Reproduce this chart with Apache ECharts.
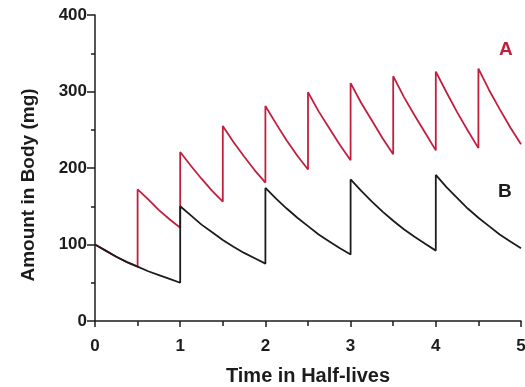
<!DOCTYPE html>
<html>
<head>
<meta charset="utf-8">
<script src="https://cdn.jsdelivr.net/npm/echarts@6/dist/echarts.min.js"></script>
<style>
  html, body { margin: 0; padding: 0; background: #fff; }
  #chart { width: 525px; height: 387px; }
</style>
</head>
<body>
<div id="chart"></div>
<script>
// x: time in half-lives, y: amount in body (mg)
const timesA = [
  0, 0.125, 0.25, 0.375, 0.5,
  0.5, 0.625, 0.75, 0.875, 1,
  1, 1.125, 1.25, 1.375, 1.5,
  1.5, 1.625, 1.75, 1.875, 2,
  2, 2.125, 2.25, 2.375, 2.5,
  2.5, 2.625, 2.75, 2.875, 3,
  3, 3.125, 3.25, 3.375, 3.5,
  3.5, 3.625, 3.75, 3.875, 4,
  4, 4.125, 4.25, 4.375, 4.5,
  4.5, 4.625, 4.75, 4.875, 5
]
const amountsA = [
  100, 92, 84, 77, 71,
  172, 159, 145, 133, 122,
  221, 203, 186, 170, 156,
  255, 234, 215, 197, 181,
  281, 258, 236, 216, 198,
  299, 274, 252, 230, 210,
  311, 285, 262, 239, 218,
  320, 293, 269, 246, 223,
  326, 299, 273, 249, 226,
  330, 302, 277, 253, 231
]

const timesB = [
  0, 0.125, 0.25, 0.375, 0.5, 0.625, 0.75, 0.875, 1,
  1, 1.125, 1.25, 1.375, 1.5, 1.625, 1.75, 1.875, 2,
  2, 2.125, 2.25, 2.375, 2.5, 2.625, 2.75, 2.875, 3,
  3, 3.125, 3.25, 3.375, 3.5, 3.625, 3.75, 3.875, 4,
  4, 4.125, 4.25, 4.375, 4.5, 4.625, 4.75, 4.875, 5
]
const amountsB = [
  100, 92, 84, 77, 71, 65, 60, 55, 50,
  150, 138, 126, 116, 106, 97, 89, 82, 75,
  174, 160, 147, 135, 124, 113, 104, 95, 87,
  185, 170, 156, 143, 131, 120, 110, 101, 92,
  191, 175, 161, 147, 135, 124, 113, 104, 95
]

const xTicks = [0, 1, 2, 3, 4, 5]
const yTicks = [0, 100, 200, 300, 400]

const RED = '#c21f3f'
const INK = '#1c1c1c'
const FONT = '"Liberation Sans", Arial, sans-serif'

const pairs = (xs, ys) => xs.map((x, i) => [x, ys[i]])

const chart = echarts.init(document.getElementById('chart'))
chart.setOption({
  animation: false,
  grid: { left: 95, right: 4, top: 15, bottom: 66, outerBoundsMode: 'none' },
  xAxis: {
    type: 'value',
    min: xTicks[0],
    max: xTicks[xTicks.length - 1],
    interval: 1,
    name: 'Time in Half-lives',
    nameLocation: 'middle',
    nameGap: 45,
    nameTextStyle: { fontFamily: FONT, fontWeight: 'bold', fontSize: 20, color: INK },
    axisLine: { lineStyle: { color: INK, width: 1.5 } },
    axisTick: { inside: false, length: 6, lineStyle: { color: INK, width: 1.5 } },
    minorTick: { show: true, splitNumber: 2, length: 5, lineStyle: { color: INK, width: 1.5 } },
    axisLabel: { margin: 17, fontFamily: FONT, fontWeight: 'bold', fontSize: 17, color: INK },
    splitLine: { show: false }
  },
  yAxis: {
    type: 'value',
    min: yTicks[0],
    max: yTicks[yTicks.length - 1],
    interval: 100,
    name: 'Amount in Body (mg)',
    nameLocation: 'middle',
    nameGap: 57,
    nameTextStyle: { fontFamily: FONT, fontWeight: 'bold', fontSize: 19, color: INK, padding: [0, 34, 0, 0] },
    axisLine: { show: true, lineStyle: { color: INK, width: 1.5 } },
    axisTick: { show: true, inside: false, length: 8, lineStyle: { color: INK, width: 1.5 } },
    minorTick: { show: true, splitNumber: 2, length: 4, lineStyle: { color: INK, width: 1.5 } },
    axisLabel: { margin: 8, fontFamily: FONT, fontWeight: 'bold', fontSize: 17, color: INK },
    splitLine: { show: false }
  },
  series: [
    {
      type: 'line',
      name: 'A',
      data: pairs(timesA, amountsA),
      symbol: 'none',
      lineStyle: { color: RED, width: 1.8 },
      z: 2
    },
    {
      type: 'line',
      name: 'B',
      data: pairs(timesB, amountsB),
      symbol: 'none',
      lineStyle: { color: INK, width: 1.8 },
      z: 3
    }
  ],
  graphic: [
    { type: 'text', left: 499, top: 40, style: { text: 'A', fill: RED, font: 'bold 19px ' + FONT } },
    { type: 'text', left: 498, top: 182, style: { text: 'B', fill: INK, font: 'bold 19px ' + FONT } }
  ]
})
</script>
</body>
</html>
